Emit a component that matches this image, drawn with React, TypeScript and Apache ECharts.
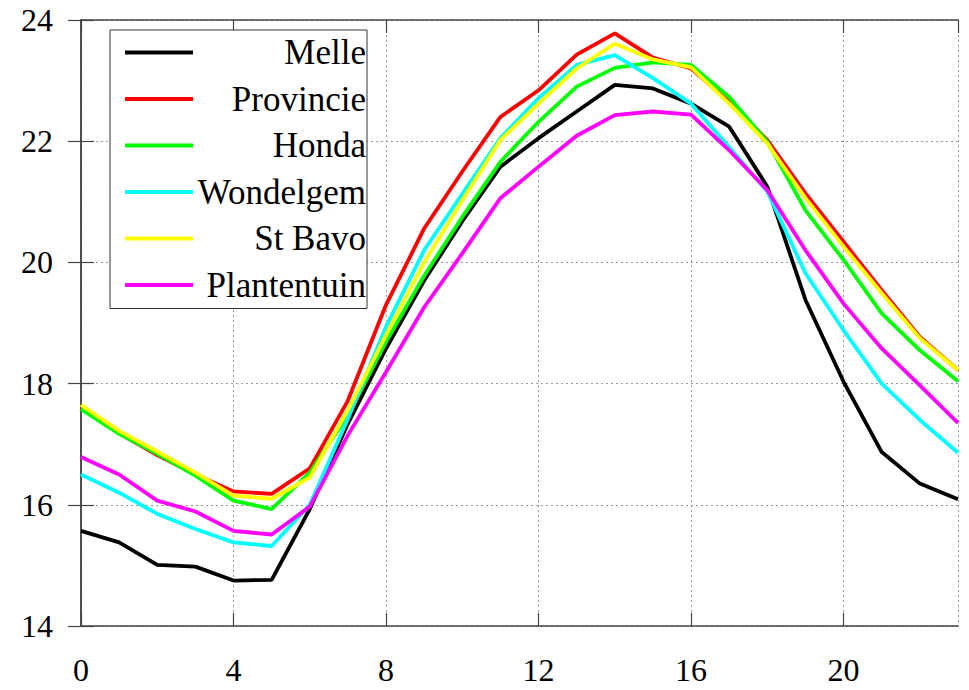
import React, { useEffect, useRef } from "react";
import * as echarts from "echarts";

const hours = [0, 1, 2, 3, 4, 5, 6, 7, 8, 9, 10, 11, 12, 13, 14, 15, 16, 17, 18, 19, 20, 21, 22, 23];
const seriesNames = ["Melle", "Provincie", "Honda", "Wondelgem", "St Bavo", "Plantentuin"];
const seriesColors = ["#000000", "#ff0000", "#00ff00", "#00ffff", "#ffff00", "#ff00ff"];

const melle = [15.57, 15.38, 15.01, 14.98, 14.75, 14.76, 15.93, 17.34, 18.58, 19.7, 20.68, 21.58, 22.05, 22.49, 22.93, 22.87, 22.62, 22.24, 21.25, 19.38, 18.03, 16.87, 16.35, 16.09];
const provincie = [17.6, 17.18, 16.82, 16.5, 16.22, 16.18, 16.6, 17.72, 19.3, 20.56, 21.5, 22.4, 22.84, 23.43, 23.78, 23.38, 23.2, 22.65, 22.02, 21.14, 20.34, 19.54, 18.77, 18.22];
const honda = [17.58, 17.17, 16.84, 16.48, 16.07, 15.93, 16.53, 17.48, 18.69, 19.78, 20.75, 21.66, 22.32, 22.9, 23.21, 23.3, 23.26, 22.73, 21.99, 20.86, 20.04, 19.16, 18.55, 18.04];
const wondelgem = [16.5, 16.2, 15.85, 15.6, 15.38, 15.32, 16.0, 17.42, 18.94, 20.2, 21.13, 22.05, 22.71, 23.26, 23.42, 23.04, 22.62, 21.9, 21.17, 19.82, 18.88, 18.0, 17.4, 16.86];
const stBavo = [17.65, 17.22, 16.88, 16.53, 16.15, 16.1, 16.45, 17.56, 18.8, 20.0, 21.02, 22.02, 22.62, 23.2, 23.61, 23.35, 23.22, 22.62, 21.96, 21.06, 20.26, 19.49, 18.75, 18.22];
const plantentuin = [16.79, 16.5, 16.07, 15.89, 15.57, 15.51, 15.97, 17.15, 18.19, 19.26, 20.15, 21.06, 21.58, 22.09, 22.43, 22.49, 22.44, 21.85, 21.19, 20.2, 19.32, 18.58, 17.97, 17.35];

const allValues = [melle, provincie, honda, wondelgem, stBavo, plantentuin];

const FONT = "Liberation Serif";

export default function App() {
  const ref = useRef<HTMLDivElement>(null);
  useEffect(() => {
    if (!ref.current) return;
    const chart = echarts.init(ref.current, undefined, { renderer: "svg" });
    const frame = { show: true, lineStyle: { color: "#444", width: 1.5 } };
    const tick = { show: true, inside: true, length: 13, lineStyle: { color: "#444", width: 1.2 } };
    const grid = { show: true, lineStyle: { color: "#999", width: 1, type: [2, 3] as any } };
    chart.setOption({
      animation: false,
      backgroundColor: "#ffffff",
      grid: { left: 81, right: 11, top: 20, bottom: 64, containLabel: false },
      legend: {
        left: 110,
        top: 30,
        orient: "vertical",
        backgroundColor: "#ffffff",
        borderColor: "#333",
        borderWidth: 1,
        padding: [5, 1, 6, 15],
        icon: "rect",
        itemWidth: 68,
        itemHeight: 4,
        itemGap: 11.5,
        itemTextGap: 5,
        data: seriesNames,
        formatter: (name: string) => `{t|${name}}`,
        textStyle: {
          fontFamily: FONT,
          rich: {
            t: {
              width: 168,
              align: "right",
              fontSize: 35,
              fontFamily: FONT,
              color: "#000",
              lineHeight: 34,
            },
          },
        },
      },
      xAxis: [
        {
          type: "value",
          min: 0,
          max: 23,
          interval: 4,
          position: "bottom",
          axisLine: frame,
          axisTick: tick,
          splitLine: grid,
          axisLabel: { fontSize: 32, fontFamily: FONT, color: "#000", margin: 28, showMaxLabel: false },
        },
        {
          type: "value",
          min: 0,
          max: 23,
          interval: 4,
          position: "top",
          axisLine: frame,
          axisTick: tick,
          splitLine: { show: false },
          axisLabel: { show: false },
        },
      ],
      yAxis: [
        {
          type: "value",
          min: 14,
          max: 24,
          interval: 2,
          position: "left",
          axisLine: frame,
          axisTick: tick,
          splitLine: grid,
          axisLabel: { fontSize: 32, fontFamily: FONT, color: "#000", margin: 28 },
        },
        {
          type: "value",
          min: 14,
          max: 24,
          interval: 2,
          position: "right",
          axisLine: frame,
          axisTick: tick,
          splitLine: { show: false },
          axisLabel: { show: false },
        },
      ],
      series: seriesNames.map((name, i) => ({
        name,
        type: "line",
        xAxisIndex: 0,
        yAxisIndex: 0,
        showSymbol: false,
        symbol: "none",
        data: hours.map((h, j) => [h, allValues[i][j]]),
        lineStyle: { color: seriesColors[i], width: 3.8 },
        itemStyle: { color: seriesColors[i] },
        z: 2 + i,
      })),
    });
    return () => chart.dispose();
  }, []);
  return <div ref={ref} style={{ width: 969, height: 690, position: "absolute", left: 0, top: 0 }} />;
}
